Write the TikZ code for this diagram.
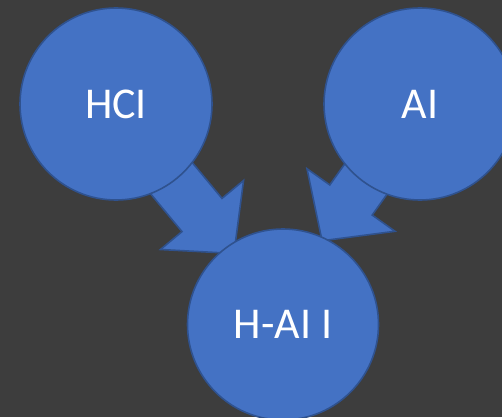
\documentclass[tikz,border=0pt]{standalone}
\usepackage{fontspec}
\setmainfont{Carlito}
\definecolor{bgcol}{HTML}{3D3D3D}
\definecolor{fillblue}{HTML}{4472C4}
\definecolor{edgeblue}{HTML}{2F528F}
\tikzset{
  blob/.style={circle, draw=edgeblue, line width=1.6pt, fill=fillblue,
    minimum size=192pt, inner sep=0pt, text=white,
    font=\fontsize{44}{52}\selectfont},
  blockarrow/.pic={
    \draw[draw=edgeblue, line width=1.6pt, fill=fillblue, line join=miter]
      (-110,26) -- (0,26) -- (0,54) -- (50,0) -- (0,-54) -- (0,-26) -- (-110,-26) -- cycle;
  }
}
\begin{document}
\begin{tikzpicture}[x=1pt,y=1pt]
  \fill[bgcol] (0,0) rectangle (502,-417);
  \useasboundingbox (0,0) rectangle (502,-417);
  \coordinate (m1) at (202,-215);
  \coordinate (m2) at (351,-200);
  \pic[rotate=-50.3] at (m1) {blockarrow};
  \pic[rotate=-125.4] at (m2) {blockarrow};
  \node[blob] (hci) at (116,-104) {HCI};
  \node[blob] (ai) at (420,-104) {AI};
  \node[blob, minimum size=191pt] (haii) at (283,-324.5) {H-AI I};
\end{tikzpicture}
\end{document}
